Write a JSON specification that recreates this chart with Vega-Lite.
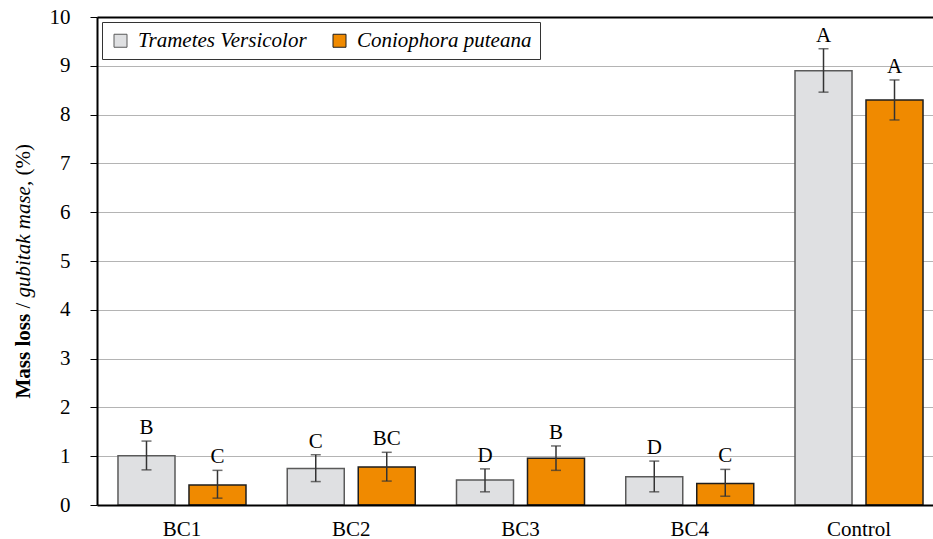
{
  "$schema": "https://vega.github.io/schema/vega-lite/v6.json",
  "width": 836,
  "height": 488,
  "autosize": {"type": "none"},
  "padding": {"left": 97, "top": 17, "right": 0, "bottom": 34},
  "background": "white",
  "config": {
    "view": {"stroke": null},
    "font": "Liberation Serif",
    "axis": {"labelFont": "Liberation Serif", "titleFont": "Liberation Serif"},
    "legend": {"labelFont": "Liberation Serif", "labelLimit": 0},
    "text": {"font": "Liberation Serif"}
  },
  "data": {
    "values": [
      {"group": "BC1", "fungus": "Trametes Versicolor", "value": 1.01, "lo": 0.72, "hi": 1.31, "letter": "B"},
      {"group": "BC1", "fungus": "Coniophora puteana", "value": 0.41, "lo": 0.14, "hi": 0.71, "letter": "C"},
      {"group": "BC2", "fungus": "Trametes Versicolor", "value": 0.75, "lo": 0.48, "hi": 1.03, "letter": "C"},
      {"group": "BC2", "fungus": "Coniophora puteana", "value": 0.78, "lo": 0.49, "hi": 1.08, "letter": "BC"},
      {"group": "BC3", "fungus": "Trametes Versicolor", "value": 0.51, "lo": 0.27, "hi": 0.74, "letter": "D"},
      {"group": "BC3", "fungus": "Coniophora puteana", "value": 0.96, "lo": 0.71, "hi": 1.21, "letter": "B"},
      {"group": "BC4", "fungus": "Trametes Versicolor", "value": 0.58, "lo": 0.27, "hi": 0.9, "letter": "D"},
      {"group": "BC4", "fungus": "Coniophora puteana", "value": 0.44, "lo": 0.18, "hi": 0.73, "letter": "C"},
      {"group": "Control", "fungus": "Trametes Versicolor", "value": 8.9, "lo": 8.46, "hi": 9.35, "letter": "A"},
      {"group": "Control", "fungus": "Coniophora puteana", "value": 8.3, "lo": 7.89, "hi": 8.71, "letter": "A"}
    ]
  },
  "layer": [
    {
      "mark": {"type": "bar", "strokeWidth": 1.5},
      "encoding": {
        "x": {
          "field": "group", "type": "nominal",
          "sort": ["BC1", "BC2", "BC3", "BC4", "Control"],
          "scale": {"range": [0, 847], "paddingInner": 0.2437, "paddingOuter": 0.124},
          "axis": {
            "orient": "bottom", "title": null, "labelAngle": 0,
            "labelFont": "Liberation Serif", "labelFontSize": 21, "labelColor": "black",
            "labelPadding": 13, "labelDx": -5, "ticks": false,
            "domainColor": "black", "domainWidth": 2, "grid": false, "zindex": 1
          }
        },
        "xOffset": {
          "field": "fungus", "type": "nominal",
          "sort": ["Trametes Versicolor", "Coniophora puteana"],
          "scale": {"paddingInner": 0.197, "paddingOuter": 0}
        },
        "y": {
          "field": "value", "type": "quantitative",
          "scale": {"domain": [0, 10], "nice": false},
          "axis": {
            "orient": "left", "values": [0, 1, 2, 3, 4, 5, 6, 7, 8, 9, 10],
            "title": "Mass loss", "titleFont": "Liberation Serif", "titleFontSize": 21,
            "titleFontWeight": "bold", "titleColor": "black", "titleAngle": -90,
            "titleAlign": "left", "titleBaseline": "alphabetic", "titleX": -68, "titleY": 381,
            "labelFont": "Liberation Serif", "labelFontSize": 21, "labelColor": "black",
            "labelPadding": 20, "tickSize": 7, "tickColor": "black", "tickWidth": 1,
            "domainColor": "black", "domainWidth": 2,
            "grid": true, "gridColor": "#B4B4B4", "gridWidth": 1
          }
        },
        "fill": {
          "field": "fungus", "type": "nominal",
          "scale": {"domain": ["Trametes Versicolor", "Coniophora puteana"], "range": ["#DFE0E2", "#F08A00"]},
          "legend": {
            "title": null, "orient": "top-left", "offset": 5, "direction": "horizontal",
            "fillColor": "white", "strokeColor": "#333333", "padding": 8,
            "symbolType": "square", "symbolSize": 169, "symbolStrokeWidth": 1,
            "labelFont": "Liberation Serif", "labelFontSize": 21, "labelFontStyle": "italic",
            "labelColor": "black", "labelOffset": 7, "labelLimit": 0, "columnPadding": 22
          }
        },
        "stroke": {
          "field": "fungus", "type": "nominal",
          "scale": {"domain": ["Trametes Versicolor", "Coniophora puteana"], "range": ["#5A5A5A", "#1E1E1E"]},
          "legend": {
            "title": null, "orient": "top-left", "offset": 5, "direction": "horizontal",
            "fillColor": "white", "strokeColor": "#333333", "padding": 8,
            "symbolType": "square", "symbolSize": 169, "symbolStrokeWidth": 1,
            "labelFont": "Liberation Serif", "labelFontSize": 21, "labelFontStyle": "italic",
            "labelColor": "black", "labelOffset": 7, "labelLimit": 0, "columnPadding": 22
          }
        }
      }
    },
    {
      "mark": {"type": "rule", "color": "#333333", "strokeWidth": 1.5},
      "encoding": {
        "x": {
          "field": "group", "type": "nominal",
          "sort": ["BC1", "BC2", "BC3", "BC4", "Control"],
          "axis": {
            "orient": "top", "title": null, "labels": false, "ticks": false,
            "domainColor": "black", "domainWidth": 2, "grid": false, "zindex": 1
          }
        },
        "xOffset": {"field": "fungus", "type": "nominal", "sort": ["Trametes Versicolor", "Coniophora puteana"]},
        "y": {
          "field": "lo", "type": "quantitative",
          "axis": {
            "orient": "left", "title": "/", "titleFont": "Liberation Serif", "titleFontSize": 21,
            "titleFontWeight": "normal", "titleColor": "black", "titleAngle": -90,
            "titleAlign": "left", "titleBaseline": "alphabetic", "titleX": -68, "titleY": 291,
            "labels": false, "ticks": false, "domain": false, "grid": false
          }
        },
        "y2": {"field": "hi"}
      }
    },
    {
      "mark": {"type": "tick", "color": "#333333", "thickness": 1.5, "size": 10},
      "encoding": {
        "x": {"field": "group", "type": "nominal", "sort": ["BC1", "BC2", "BC3", "BC4", "Control"], "axis": null},
        "xOffset": {"field": "fungus", "type": "nominal", "sort": ["Trametes Versicolor", "Coniophora puteana"]},
        "y": {
          "field": "hi", "type": "quantitative",
          "axis": {
            "orient": "left", "title": "gubitak mase,", "titleFont": "Liberation Serif", "titleFontSize": 21,
            "titleFontWeight": "normal", "titleFontStyle": "italic", "titleColor": "black", "titleAngle": -90,
            "titleAlign": "left", "titleBaseline": "alphabetic", "titleX": -68, "titleY": 280,
            "labels": false, "ticks": false, "domain": false, "grid": false
          }
        }
      }
    },
    {
      "mark": {"type": "tick", "color": "#333333", "thickness": 1.5, "size": 10},
      "encoding": {
        "x": {"field": "group", "type": "nominal", "sort": ["BC1", "BC2", "BC3", "BC4", "Control"], "axis": null},
        "xOffset": {"field": "fungus", "type": "nominal", "sort": ["Trametes Versicolor", "Coniophora puteana"]},
        "y": {
          "field": "lo", "type": "quantitative",
          "axis": {
            "orient": "left", "title": "(%)", "titleFont": "Liberation Serif", "titleFontSize": 21,
            "titleFontWeight": "normal", "titleColor": "black", "titleAngle": -90,
            "titleAlign": "left", "titleBaseline": "alphabetic", "titleX": -68, "titleY": 158,
            "labels": false, "ticks": false, "domain": false, "grid": false
          }
        }
      }
    },
    {
      "mark": {"type": "text", "font": "Liberation Serif", "fontSize": 21, "color": "black", "baseline": "alphabetic", "align": "center", "dy": -7},
      "encoding": {
        "x": {"field": "group", "type": "nominal", "sort": ["BC1", "BC2", "BC3", "BC4", "Control"], "axis": null},
        "xOffset": {"field": "fungus", "type": "nominal", "sort": ["Trametes Versicolor", "Coniophora puteana"]},
        "y": {"field": "hi", "type": "quantitative", "axis": null},
        "text": {"field": "letter"}
      }
    }
  ],
  "resolve": {"axis": {"x": "independent", "y": "independent"}}
}
